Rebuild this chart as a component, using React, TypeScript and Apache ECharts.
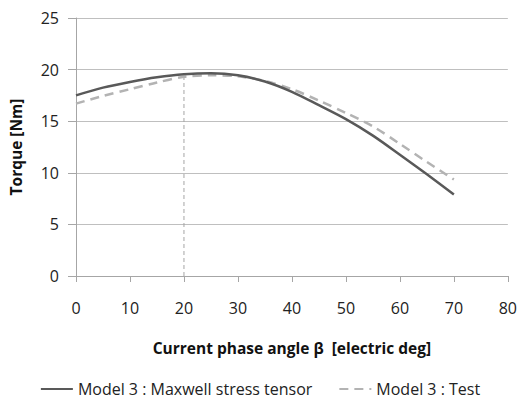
import React, { useEffect, useRef } from "react";
import * as echarts from "echarts";

const angles = [0, 5, 10, 15, 20, 25, 30, 35, 40, 45, 50, 55, 60, 65, 70];
const maxwellTorque = [17.5, 18.25, 18.8, 19.25, 19.55, 19.65, 19.45, 18.85, 17.85, 16.55, 15.2, 13.6, 11.75, 9.85, 7.9];
const testTorque = [16.7, 17.45, 18.1, 18.75, 19.3, 19.45, 19.35, 18.9, 18.1, 17.0, 15.8, 14.5, 12.8, 11.05, 9.35];
const markerX = [20, 20];
const markerY = [0, 19.45];
const seriesNames = ["Model 3 : Maxwell stress tensor", "Model 3 : Test"];

const FONT = "'Open Sans', 'Noto Sans', sans-serif";

export default function App() {
  const ref = useRef<HTMLDivElement>(null);
  useEffect(() => {
    if (!ref.current) return;
    const chart = echarts.init(ref.current, undefined, { renderer: "svg" });
    chart.setOption({
      animation: false,
      backgroundColor: "#ffffff",
      grid: { left: 76, right: 10, top: 18, bottom: 132 },
      legend: {
        bottom: 6,
        left: "center",
        itemWidth: 32,
        itemHeight: 10,
        itemGap: 26,
        itemStyle: { opacity: 0 },
        textStyle: { fontFamily: FONT, fontSize: 16, color: "#222" },
        data: seriesNames,
      },
      xAxis: {
        type: "value",
        min: 0,
        max: 80,
        interval: 10,
        name: "Current phase angle β  [electric deg]",
        nameLocation: "middle",
        nameGap: 64,
        nameTextStyle: { fontFamily: FONT, fontSize: 15.5, fontWeight: "bold", color: "#111" },
        axisLine: { show: true, lineStyle: { color: "#a6a6a6", width: 1 } },
        axisTick: { show: true, length: 6, lineStyle: { color: "#a6a6a6" } },
        axisLabel: { fontFamily: FONT, fontSize: 16, color: "#222", margin: 24 },
        splitLine: { show: false },
      },
      yAxis: {
        type: "value",
        min: 0,
        max: 25,
        interval: 5,
        name: "Torque [Nm]",
        nameLocation: "middle",
        nameGap: 52,
        nameRotate: 90,
        nameTextStyle: { fontFamily: FONT, fontSize: 15.5, fontWeight: "bold", color: "#111" },
        axisLine: { show: true, lineStyle: { color: "#a6a6a6", width: 1 } },
        axisTick: { show: true, length: 8, lineStyle: { color: "#a6a6a6" } },
        axisLabel: { fontFamily: FONT, fontSize: 16, color: "#222", margin: 17 },
        splitLine: { show: true, lineStyle: { color: "#bfbfbf", width: 1 } },
      },
      series: [
        {
          name: "marker",
          type: "line",
          data: markerX.map((x, i) => [x, markerY[i]]),
          showSymbol: false,
          symbol: "none",
          lineStyle: { color: "#a6a6a6", width: 1, type: [4, 3] },
          silent: true,
          z: 1,
        },
        {
          name: seriesNames[1],
          type: "line",
          data: angles.map((a, i) => [a, testTorque[i]]),
          smooth: 0.3,
          symbol: "none",
          lineStyle: { color: "#b3b3b3", width: 2.5, type: [9, 6] },
          itemStyle: { color: "#b3b3b3" },
          z: 2,
        },
        {
          name: seriesNames[0],
          type: "line",
          data: angles.map((a, i) => [a, maxwellTorque[i]]),
          smooth: 0.3,
          symbol: "none",
          lineStyle: { color: "#595959", width: 2.5 },
          itemStyle: { color: "#595959" },
          z: 3,
        },
      ],
    });
    return () => chart.dispose();
  }, []);
  return <div ref={ref} style={{ width: 520, height: 408, position: "absolute", left: 0, top: 0 }} />;
}
